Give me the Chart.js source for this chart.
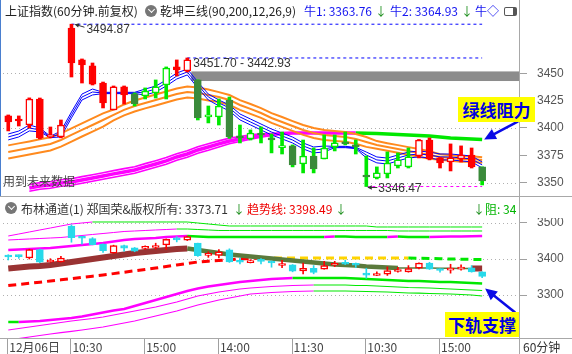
<!DOCTYPE html>
<html>
<head>
<meta charset="utf-8">
<script src="https://cdn.jsdelivr.net/npm/chart.js@4.4.1/dist/chart.umd.min.js"></script>
<style>
  body { margin: 0; background: #fff; }
  #wrap { position: relative; width: 572px; height: 354px; overflow: hidden; background: #fff;
          font-family: "Noto Sans CJK SC", "Noto Sans", sans-serif; }
  #wrap canvas { position: absolute; left: 0; }
  .t { position: absolute; white-space: nowrap; font-size: 12px; line-height: 16px; color: #222; }
  .num { font-family: "Liberation Sans", Arial, sans-serif; color: #333; }
  .ln { position: absolute; background: #a8a8a8; }
  .ico { position: absolute; width: 12px; height: 12px; border-radius: 50%; background: #767676; }
  .ico::after { content: ''; position: absolute; left: 3.6px; top: 2px; width: 4px; height: 4px;
                border-right: 1.6px solid #fff; border-bottom: 1.6px solid #fff; transform: rotate(45deg); }
  .tag { position: absolute; background: #ffff00; color: #0000e0; font-weight: bold; font-size: 17px;
         line-height: 25px; height: 25px; text-align: center; }
</style>
</head>
<body>
<div id="wrap">
  <canvas id="main" width="572" height="197" style="top:0"></canvas>
  <canvas id="sub" width="572" height="136" style="top:218px"></canvas>

  <!-- frame lines -->
  <div class="ln" style="left:0;top:0;width:1px;height:197px;background:#4a7fcf"></div>
  <div class="ln" style="left:519px;top:0;width:1px;height:354px"></div>
  <div class="ln" style="left:0;top:196px;width:572px;height:1px"></div>
  <div class="ln" style="left:0;top:338px;width:572px;height:1px"></div>

  <!-- top title row -->
  <div class="t" style="left:5px;top:3px">上证指数(60分钟.前复权)</div>
  <div class="ico" style="left:145px;top:5px"></div>
  <div class="t" style="left:160px;top:3px">乾坤三线(90,200,12,26,9)</div>
  <div class="t" style="left:304px;top:3px;color:#1515f0">牛1: 3363.76</div>
  <div class="t" style="left:375px;top:3px;color:#1d8f1d">↓</div>
  <div class="t" style="left:390px;top:3px;color:#1515f0">牛2: 3364.93</div>
  <div class="t" style="left:461px;top:3px;color:#1d8f1d">↓</div>
  <div class="t" style="left:475px;top:3px;color:#1515f0">牛◇</div>
  <div style="position:absolute;left:504px;top:7px;width:8px;height:7px;border:1.5px solid #555;border-radius:2px;border-right:4px solid #555"></div>

  <!-- lower panel title row -->
  <div class="ico" style="left:5px;top:202px"></div>
  <div style="position:absolute;left:0;top:198px;width:519px;height:20px;overflow:hidden">
    <div class="t" style="left:21px;top:3px;color:#333">布林通道(1) 郑国荣&amp;版权所有: 3373.71</div>
    <div class="t" style="left:233px;top:3px;color:#1d8f1d">↓</div>
    <div class="t" style="left:247px;top:3px;color:#ee0000">趋势线: 3398.49</div>
    <div class="t" style="left:335px;top:3px;color:#1d8f1d">↓</div>
    <div class="t" style="left:473px;top:3px;color:#1d8f1d">↓</div>
    <div class="t" style="left:485px;top:3px;color:#00b400">阻: 34</div>
  </div>

  <!-- in-chart texts -->
  <div class="t" style="left:3px;top:173px;color:#444">用到未来数据</div>
  <div class="t num" id="lblHi"></div>
  <div class="t num" id="lblGap"></div>
  <div class="t num" id="lblLo"></div>
  <div class="tag" style="left:458px;top:97px;width:77px">绿线阻力</div>
  <div class="tag" style="left:445px;top:312px;width:74px">下轨支撑</div>
  <div class="t" style="left:523px;top:339px;color:#333">60分钟</div>
</div>

<script>
// ---- data ----
const categories = ['14:00','15:00',
  '10:30','11:30','14:00','15:00','10:30','11:30','14:00','15:00','10:30','11:30','14:00','15:00',
  '10:30','11:30','14:00','15:00','10:30','11:30','14:00','15:00','10:30','11:30','14:00','15:00',
  '10:30','11:30','14:00','15:00','10:30','11:30','14:00','15:00','10:30','11:30','14:00','15:00',
  '10:30','11:30','14:00','15:00','10:30','11:30','14:00','15:00'];
const tickIdx  = [0, 6, 13, 20, 27, 34, 41];
const tickText = ['12月06日', '10:30', '15:00', '14:00', '11:30', '10:30', '15:00'];

const open  = [3411.0, 3408.2, 3402.7, 3426.5, 3391.8, 3391.8, 3491.4, 3462.2, 3456.7, 3441.1, 3416.5, 3437.5, 3431.1, 3429.3, 3432.0, 3439.3,
               3455.8, 3452.1, 3443.9, 3410.1, 3410.1, 3425.6, 3391.8, 3389.9, 3394.5, 3391.0, 3382.0, 3383.6, 3367.1, 3374.4, 3371.7, 3382.6,
               3387.2, 3384.5, 3357.0, 3354.3, 3358.0, 3365.3, 3364.4, 3374.4, 3389.0, 3372.6, 3368.9, 3371.7, 3375.3, 3364.4];
const high  = [3411.9, 3411.0, 3427.5, 3427.4, 3400.9, 3407.3, 3494.87, 3463.1, 3459.4, 3442.0, 3438.4, 3438.4, 3432.0, 3436.6, 3443.9, 3455.8,
               3462.2, 3464.0, 3444.0, 3420.1, 3426.5, 3428.3, 3402.7, 3398.2, 3400.9, 3394.5, 3396.3, 3384.5, 3389.0, 3381.7, 3393.6, 3393.6,
               3396.3, 3389.0, 3374.4, 3364.4, 3378.1, 3377.2, 3381.7, 3389.5, 3390.9, 3373.0, 3385.4, 3383.6, 3381.7, 3364.5];
const low   = [3397.3, 3401.8, 3400.0, 3390.0, 3390.9, 3391.0, 3446.6, 3441.1, 3439.3, 3418.3, 3416.5, 3421.9, 3420.1, 3426.5, 3427.4, 3426.5,
               3447.5, 3451.2, 3407.3, 3404.6, 3402.7, 3390.5, 3386.3, 3389.0, 3386.3, 3377.2, 3376.2, 3364.4, 3358.9, 3358.9, 3371.7, 3379.0,
               3384.5, 3376.2, 3346.47, 3353.4, 3354.3, 3363.4, 3363.4, 3372.6, 3370.8, 3363.4, 3360.7, 3368.9, 3363.4, 3347.9];
const close = [3405.5, 3406.4, 3426.5, 3390.9, 3392.7, 3402.7, 3459.4, 3457.6, 3440.0, 3422.9, 3437.5, 3430.2, 3421.9, 3433.8, 3437.5, 3454.8,
               3453.0, 3462.2, 3409.1, 3410.5, 3420.1, 3391.8, 3391.0, 3395.4, 3393.6, 3389.0, 3383.0, 3366.2, 3374.4, 3362.5, 3381.7, 3386.3,
               3385.4, 3382.6, 3355.2, 3358.9, 3368.0, 3370.8, 3373.5, 3389.0, 3371.7, 3368.0, 3372.6, 3375.3, 3364.4, 3351.6];
// 乾坤三线 state: 1 bull (red), -1 bear (green)
const signal = [1,1,1,1,1,1,1,1,1,1,1,1,-1,-1,-1,-1,1,1,-1,-1,-1,-1,-1,-1,-1,-1,-1,-1,-1,-1,-1,-1,-1,-1,-1,-1,-1,-1,-1,1,1,1,1,1,1,-1];

const blueHi  = [3394.5, 3397.2, 3402.7, 3400.0, 3392.4, 3397.2, 3414.6, 3431.0, 3435.6, 3432.6, 3432.6, 3432.6, 3432.6, 3435.6, 3438.3, 3443.8,
                 3450.2, 3453.9, 3442.0, 3431.0, 3425.6, 3421.0, 3412.8, 3408.2, 3403.6, 3399.0, 3395.4, 3391.7, 3386.3, 3382.6, 3383.5, 3383.2,
                 3383.2, 3382.3, 3378.0, 3373.5, 3372.5, 3375.3, 3378.0, 3378.9, 3378.0, 3376.2, 3376.2, 3375.3, 3374.4, 3368.9];
const blueMid = [3391.8, 3394.5, 3400.0, 3398.2, 3391.8, 3394.5, 3411.9, 3428.3, 3432.9, 3432.0, 3432.0, 3432.0, 3432.0, 3432.9, 3435.6, 3441.1,
                 3447.5, 3451.2, 3439.3, 3428.3, 3422.9, 3418.3, 3410.1, 3405.5, 3400.9, 3396.3, 3392.7, 3389.0, 3383.6, 3379.9, 3380.8, 3382.6,
                 3382.6, 3381.7, 3375.3, 3370.8, 3369.8, 3372.6, 3375.3, 3376.2, 3375.3, 3373.5, 3373.5, 3372.6, 3371.7, 3366.2];
const blueLo  = [3389.1, 3391.8, 3397.3, 3396.4, 3391.2, 3391.8, 3409.2, 3425.6, 3430.2, 3431.4, 3431.4, 3431.4, 3431.4, 3430.2, 3432.9, 3438.4,
                 3444.8, 3448.5, 3436.6, 3425.6, 3420.2, 3415.6, 3407.4, 3402.8, 3398.2, 3393.6, 3390.0, 3386.3, 3380.9, 3377.2, 3378.1, 3382.0,
                 3382.0, 3381.1, 3372.6, 3368.1, 3367.1, 3369.9, 3372.6, 3373.5, 3372.6, 3370.8, 3370.8, 3369.9, 3369.0, 3363.5];

const orangeHi  = [3384.1, 3385.9, 3387.7, 3389.6, 3391.4, 3395.0, 3399.6, 3404.2, 3408.7, 3413.3, 3416.9, 3421.5, 3425.1, 3427.9, 3430.6, 3433.3,
                   3436.1, 3437.9, 3437.0, 3435.2, 3432.8, 3430.1, 3425.5, 3421.9, 3418.2, 3413.6, 3410.0, 3406.3, 3402.7, 3399.9, 3398.1, 3397.2,
                   3396.3, 3394.5, 3391.7, 3388.0, 3386.1, 3384.3, 3382.5, 3380.7, 3378.8, 3376.0, 3375.1, 3374.2, 3374.2, 3373.3];
const orangeMid = [3378.1, 3379.9, 3381.7, 3383.6, 3385.4, 3389.0, 3393.6, 3398.2, 3402.7, 3407.3, 3411.9, 3416.5, 3420.1, 3422.9, 3425.6, 3428.3,
                   3431.1, 3432.9, 3432.0, 3430.2, 3428.3, 3425.6, 3421.0, 3417.4, 3413.7, 3409.1, 3405.5, 3401.8, 3398.2, 3395.4, 3393.6, 3392.7,
                   3391.8, 3390.0, 3387.2, 3384.5, 3382.6, 3380.8, 3379.0, 3377.2, 3375.3, 3373.5, 3372.6, 3371.7, 3371.7, 3370.8];
const orangeLo  = [3372.1, 3373.9, 3375.7, 3377.6, 3379.4, 3383.0, 3387.6, 3392.2, 3396.7, 3401.3, 3406.9, 3411.5, 3415.1, 3417.9, 3420.6, 3423.3,
                   3426.1, 3427.9, 3427.0, 3425.2, 3423.8, 3421.1, 3416.5, 3412.9, 3409.2, 3404.6, 3401.0, 3397.3, 3393.7, 3390.9, 3389.1, 3388.2,
                   3387.3, 3385.5, 3382.7, 3381.0, 3379.1, 3377.3, 3375.5, 3373.7, 3371.8, 3371.0, 3370.1, 3369.2, 3369.2, 3368.3];

const trendLine = [null, null, 3345.2, 3347.0, 3347.9, 3349.7, 3350.6, 3352.5, 3354.3, 3356.1, 3358.0, 3359.8, 3361.6, 3364.4, 3367.1, 3369.9,
                   3373.5, 3376.2, 3379.9, 3382.6, 3385.4, 3388.1, 3389.9, 3391.8, 3393.1, 3394.1, 3395.0, 3395.4, 3395.4, 3395.4, 3395.4, 3395.4,
                   3395.4, 3395.4, 3395.2, 3395.0, 3394.5, 3394.1, 3393.6, 3393.1, 3392.7, 3391.8, 3390.9, 3390.4, 3390.0, 3389.5];
const magHi = [null, null, 3348.2, 3350.0, 3350.9, 3352.7, 3353.6, 3355.5, 3357.3, 3359.1, 3361.0, 3362.8, 3364.6, 3367.4, 3370.1, 3372.9,
               3376.5, 3379.2, 3382.9, 3385.6, 3388.2, 3390.7, 3392.2, 3393.8, 3394.6, 3395.0, null, null, null, null, null, null,
               null, null, null, null, null, null, null, null, null, null, null, null, null, null];
const magLo = [null, null, 3342.2, 3344.0, 3344.9, 3346.7, 3347.6, 3349.5, 3351.3, 3353.1, 3355.0, 3356.8, 3358.6, 3361.4, 3364.1, 3366.9,
               3370.5, 3373.2, 3376.9, 3379.6, 3382.6, 3385.5, 3387.6, 3389.8, 3391.6, 3393.2, null, null, null, null, null, null,
               null, null, null, null, null, null, null, null, null, null, null, null, null, null];

const gapFrom = 17, gapTop = 3451.70, gapBottom = 3442.93;

// 布林通道 panel
const upA = [3463.9, 3469.4, 3475.0, 3480.6, 3486.1, 3491.7, 3497.2, 3500.0, 3502.8, 3502.8, 3502.8, 3502.8, 3502.8, 3502.8, 3502.8, 3502.8,
             3502.8, 3502.8, 3500.0, 3497.2, 3494.4, 3491.7, 3491.7, 3491.7, 3491.7, 3491.7, 3491.7, 3491.7, 3491.7, 3491.7, 3491.7, 3491.7,
             3491.7, 3491.7, 3491.7, 3488.9, 3488.9, 3488.9, 3488.9, 3488.9, 3488.9, 3488.9, 3488.9, 3488.9, 3488.9, 3488.9];
const upB = [3452.8, 3454.2, 3455.6, 3456.9, 3458.3, 3459.7, 3462.5, 3465.3, 3468.1, 3470.8, 3473.6, 3476.4, 3477.8, 3479.2, 3480.6, 3481.9,
             3483.3, 3483.3, 3481.9, 3480.6, 3479.2, 3479.2, 3479.2, 3479.2, 3479.2, 3479.2, 3479.2, 3479.2, 3479.2, 3479.2, 3479.2, 3479.2,
             3479.2, 3479.2, 3479.2, 3479.2, 3479.2, 3477.8, 3477.8, 3477.8, 3477.8, 3477.8, 3477.8, 3477.8, 3477.8, 3477.8];
const upC = [3425.0, 3426.4, 3427.8, 3429.2, 3430.6, 3433.3, 3436.1, 3438.9, 3441.7, 3444.4, 3448.6, 3452.8, 3455.6, 3456.9, 3458.3, 3461.1,
             3462.5, 3463.9, 3462.5, 3461.1, 3461.1, 3461.1, 3461.1, 3461.1, 3461.1, 3461.1, 3461.1, 3461.1, 3461.1, 3461.1, 3461.1, 3462.5,
             3462.5, 3461.1, 3461.1, 3461.1, 3461.1, 3462.5, 3461.1, 3461.1, 3461.1, 3461.7, 3462.2, 3462.8, 3463.3, 3463.9];
const midBand = [3373.6, 3376.4, 3379.2, 3380.6, 3383.3, 3387.5, 3391.7, 3395.8, 3400.0, 3404.2, 3408.3, 3412.5, 3416.7, 3419.4, 3422.2, 3425.0,
                 3427.8, 3429.2, 3425.0, 3420.8, 3416.7, 3412.5, 3409.7, 3406.9, 3404.2, 3401.4, 3398.6, 3395.8, 3393.1, 3390.3, 3387.5, 3384.7,
                 3383.3, 3381.9, 3379.2, 3377.8, 3376.4, 3375.0, 3375.0, 3375.0, 3375.0, 3374.4, 3374.2, 3373.9, 3373.6, 3373.7];
const trendDash = [3326.4, 3329.5, 3332.5, 3335.7, 3338.9, 3342.2, 3345.5, 3348.9, 3352.2, 3355.6, 3359.4, 3363.3, 3367.2, 3371.1, 3375.0, 3379.2,
                   3383.4, 3387.5, 3391.7, 3394.0, 3396.0, 3398.2, 3400.2, 3401.9, 3402.4, 3402.7, 3402.8, 3402.8, 3402.8, 3402.8, 3402.8, 3402.8,
                   3402.8, 3402.8, 3402.8, 3402.8, 3402.8, 3402.7, 3402.5, 3402.0, 3401.4, 3400.7, 3400.0, 3399.4, 3398.9, 3398.49];
const lowA = [3225.0, 3225.0, 3226.4, 3227.8, 3230.6, 3233.3, 3236.1, 3240.3, 3246.0, 3251.4, 3256.9, 3261.1, 3269.4, 3277.8, 3286.1, 3294.4,
              3302.8, 3311.1, 3318.1, 3323.6, 3327.8, 3331.9, 3336.1, 3338.9, 3341.7, 3344.4, 3345.8, 3347.2, 3347.2, 3347.2, 3347.2, 3347.2,
              3347.2, 3345.8, 3344.4, 3343.1, 3341.7, 3340.3, 3338.9, 3338.9, 3337.5, 3336.1, 3336.1, 3334.7, 3333.3, 3331.9];
const lowB = [3202.8, 3207.0, 3211.1, 3215.3, 3219.4, 3223.6, 3227.8, 3231.3, 3234.7, 3238.9, 3244.4, 3250.0, 3255.6, 3261.1, 3266.7, 3273.6,
              3280.6, 3288.9, 3297.2, 3302.8, 3308.3, 3312.5, 3316.7, 3319.4, 3321.5, 3323.6, 3325.0, 3326.4, 3327.1, 3327.8, 3327.8, 3327.8,
              3327.8, 3326.4, 3326.4, 3325.0, 3323.6, 3322.2, 3320.8, 3320.1, 3319.4, 3318.1, 3316.7, 3315.3, 3313.9, 3312.5];
const lowC = [3175.0, 3179.0, 3183.3, 3187.5, 3191.7, 3195.4, 3199.1, 3202.8, 3206.9, 3211.1, 3216.7, 3222.2, 3227.8, 3234.7, 3241.7, 3248.6,
              3255.6, 3263.9, 3272.2, 3279.2, 3286.1, 3291.7, 3297.2, 3302.8, 3304.9, 3306.9, 3308.3, 3309.7, 3310.4, 3311.1, 3311.1, 3311.1,
              3311.1, 3310.4, 3309.7, 3309.0, 3308.3, 3306.9, 3305.6, 3305.0, 3304.2, 3303.5, 3302.8, 3301.4, 3300.0, 3297.2];

const mainTicks = [3350, 3375, 3400, 3425, 3450];
const mainGrid  = [3350, 3400, 3450];
const subTicks  = [3300, 3400, 3500];

// ---- styles ----
const RED = '#ff0000', GREEN = '#00e800', DKGREEN = '#3b8a3b', CYAN = '#27d9ea';
const MAG = '#ff00ff', ORANGE = '#ff8a1e', BLUE = '#0000ff', BROWN = '#993333', OLIVE = '#5b7a3c';
const AXIS = '#a0a0a0';

Chart.defaults.font.family = '"Liberation Sans", Arial, sans-serif';

const xLabels = categories.concat(['', '', '']);
const last = categories.length - 1;
const bodies = open.map((o, i) => [Math.min(o, close[i]), Math.max(o, close[i])]);
const wicks = low.map((l, i) => [l, high[i]]);
const isUp = i => close[i] > open[i];
const hiIdx = high.indexOf(Math.max(...high));
const loIdx = low.indexOf(Math.min(...low));

function line(data, color, width, order, extra) {
  return Object.assign({ type: 'line', data, borderColor: color, borderWidth: width, pointRadius: 0,
                         tension: 0, fill: false, order, spanGaps: false }, extra || {});
}
// horizontal price level from candle `from` to the last candle
function level(value, from, color) {
  return line(categories.map((_, i) => (i >= from ? value : null)), color, 1, 12, { borderDash: [3, 3] });
}
const riseColor = (up, down) => ({ borderColor: c => c.p1.parsed.y > c.p0.parsed.y ? up : down });

function yAxis(min, max, ticks) {
  return {
    position: 'right', min, max,
    afterBuildTicks: s => { s.ticks = ticks.map(v => ({ value: v })); },
    afterFit: s => { s.width = 53; s.paddingTop = 0; s.paddingBottom = 0; },
    grid: { drawOnChartArea: false, tickLength: 8, color: AXIS },
    border: { color: AXIS },
    ticks: { color: '#555', padding: 10, font: { size: 12 }, callback: v => String(v) }
  };
}

function arrow(ctx, x1, y1, x2, y2, color, w, head) {
  const a = Math.atan2(y2 - y1, x2 - x1);
  ctx.save();
  ctx.strokeStyle = color; ctx.fillStyle = color; ctx.lineWidth = w;
  ctx.beginPath(); ctx.moveTo(x1, y1);
  ctx.lineTo(x2 - Math.cos(a) * head * 0.7, y2 - Math.sin(a) * head * 0.7); ctx.stroke();
  ctx.beginPath(); ctx.moveTo(x2, y2);
  ctx.lineTo(x2 - head * Math.cos(a - 0.45), y2 - head * Math.sin(a - 0.45));
  ctx.lineTo(x2 - head * Math.cos(a + 0.45), y2 - head * Math.sin(a + 0.45));
  ctx.closePath(); ctx.fill();
  ctx.restore();
}
function dotted(chart, values) {
  const { ctx, chartArea: a, scales: { y } } = chart;
  ctx.save();
  ctx.strokeStyle = '#b0b0b0'; ctx.lineWidth = 1; ctx.setLineDash([1, 3]);
  values.forEach(v => {
    const py = Math.round(y.getPixelForValue(v)) + 0.5;
    ctx.beginPath(); ctx.moveTo(a.left, py); ctx.lineTo(a.right, py); ctx.stroke();
  });
  ctx.restore();
}

// ---- main panel: 乾坤三线 ----
const mainDeco = {
  id: 'mainDeco',
  beforeDatasetsDraw(chart) {
    const { ctx, chartArea: a, scales: { x, y } } = chart;
    dotted(chart, mainGrid);
    const gx = x.getPixelForValue(gapFrom) + 4;
    const g1 = y.getPixelForValue(gapTop), g2 = y.getPixelForValue(gapBottom);
    ctx.fillStyle = '#8c8c8c';
    ctx.fillRect(gx, g1, a.right - gx, g2 - g1);
  },
  afterDatasetsDraw(chart) {
    const { ctx, scales: { x, y } } = chart;
    const hx = x.getPixelForValue(hiIdx), hy = y.getPixelForValue(high[hiIdx]);
    arrow(ctx, hx + 13, hy + 3, hx + 3, hy, '#333', 1, 5);
    const lx = x.getPixelForValue(loIdx), ly = y.getPixelForValue(low[loIdx]);
    arrow(ctx, lx + 11, ly + 1, lx + 1, ly + 1, '#333', 1, 5);
    const tx = x.getPixelForValue(last) + 2, ty = y.getPixelForValue(trendLine[last]);
    arrow(ctx, tx + 34, ty - 18, tx, ty, '#0a0ae6', 2.5, 13);
  }
};

const mainChart = new Chart(document.getElementById('main'), {
  type: 'bar',
  data: {
    labels: xLabels,
    datasets: [
      line(magHi, MAG, 1.6, 20),
      line(magLo, MAG, 1.6, 20),
      line(trendLine, MAG, 3.5, 19, { segment: { borderColor: c => c.p1.parsed.y < c.p0.parsed.y ? GREEN : MAG } }),
      line(orangeHi, ORANGE, 2, 18),
      line(orangeMid, ORANGE, 2, 18),
      line(orangeLo, ORANGE, 2, 18),
      line(blueHi, BLUE, 1, 17),
      line(blueMid, BLUE, 1, 17),
      line(blueLo, BLUE, 1, 17),
      level(high[hiIdx], hiIdx, BLUE),
      level(high[gapFrom], gapFrom, BLUE),
      level(low[loIdx], loIdx, MAG),
      { type: 'bar', data: wicks, barThickness: 3, grouped: false, order: 2, borderWidth: 0,
        backgroundColor: c => signal[c.dataIndex] > 0 ? RED : GREEN },
      { type: 'bar', data: bodies, barThickness: 7, grouped: false, order: 1, minBarLength: 2,
        borderSkipped: false, borderWidth: 1.5,
        backgroundColor: c => isUp(c.dataIndex) ? '#ffffff' : (signal[c.dataIndex] > 0 ? RED : DKGREEN),
        borderColor: c => signal[c.dataIndex] > 0 ? RED : (isUp(c.dataIndex) ? GREEN : DKGREEN) }
    ]
  },
  options: {
    responsive: false, animation: false, events: [],
    layout: { padding: { left: 3, top: 21, bottom: 1, right: 0 } },
    plugins: { legend: { display: false }, tooltip: { enabled: false } },
    scales: {
      x: { type: 'category', offset: true, display: false },
      y: yAxis(3337.8, 3497.8, mainTicks)
    }
  },
  plugins: [mainDeco]
});

// ---- lower panel: 布林通道 ----
const subDeco = {
  id: 'subDeco',
  beforeDatasetsDraw(chart) { dotted(chart, subTicks); },
  afterDatasetsDraw(chart) {
    const { ctx, chartArea: a, scales: { x, y } } = chart;
    ctx.save();
    ctx.strokeStyle = AXIS; ctx.lineWidth = 1;
    tickIdx.forEach(i => {
      const px = Math.round(x.getPixelForValue(i)) - 0.5;
      ctx.beginPath(); ctx.moveTo(px, a.bottom); ctx.lineTo(px, chart.height); ctx.stroke();
    });
    ctx.restore();
    const tx = x.getPixelForValue(last) + 3, ty = y.getPixelForValue(lowA[last]) + 5;
    arrow(ctx, tx + 30, ty + 24, tx, ty, '#0a0ae6', 2.5, 13);
  }
};

new Chart(document.getElementById('sub'), {
  type: 'bar',
  data: {
    labels: xLabels,
    datasets: [
      line(upA, GREEN, 1, 20, { segment: riseColor(MAG, GREEN) }),
      line(upB, GREEN, 1, 20, { segment: riseColor(MAG, GREEN) }),
      line(upC, GREEN, 2.5, 20, { segment: riseColor(MAG, GREEN) }),
      line(lowA, GREEN, 2.5, 20, { segment: riseColor(MAG, GREEN) }),
      line(lowB, GREEN, 1.2, 20, { segment: riseColor(MAG, GREEN) }),
      line(lowC, GREEN, 1.2, 20, { segment: riseColor(MAG, GREEN) }),
      line(trendDash, RED, 3, 19, { borderDash: [8, 5], segment: { borderColor: c => {
        const d = c.p1.parsed.y - c.p0.parsed.y;
        return d > 0.3 ? RED : (d < -0.25 ? GREEN : '#ffd400');
      } } }),
      line(midBand, BROWN, 6, 18, { segment: {
        borderColor: c => c.p1.parsed.y > c.p0.parsed.y ? BROWN : OLIVE,
        borderWidth: c => {
          const d = c.p1.parsed.y - c.p0.parsed.y;
          return d > 0 ? 6 : (d < -1 ? 4.5 : 1.5);
        } } }),
      { type: 'bar', data: wicks, barThickness: 1, grouped: false, order: 2, borderWidth: 0,
        backgroundColor: c => isUp(c.dataIndex) ? RED : CYAN },
      { type: 'bar', data: bodies, barThickness: 7, grouped: false, order: 1, minBarLength: 2,
        borderSkipped: false, borderWidth: 1.5,
        backgroundColor: c => isUp(c.dataIndex) ? '#ffffff' : CYAN,
        borderColor: c => isUp(c.dataIndex) ? RED : CYAN }
    ]
  },
  options: {
    responsive: false, animation: false, events: [],
    layout: { padding: { left: 3, top: 1, bottom: 0, right: 0 } },
    plugins: { legend: { display: false }, tooltip: { enabled: false } },
    scales: {
      x: { type: 'category', offset: true,
           afterFit: s => { s.height = 16; s.paddingLeft = 0; s.paddingRight = 0; },
           grid: { display: false, drawTicks: false },
           border: { display: true, color: AXIS },
           ticks: { autoSkip: false, maxRotation: 0, minRotation: 0, align: 'start', labelOffset: 1, padding: 2,
                    color: '#444', font: { size: 12, family: '"Noto Sans CJK SC", "Liberation Sans", sans-serif' },
                    callback: (v, i) => { const k = tickIdx.indexOf(i); return k >= 0 ? tickText[k] : ''; } } },
      y: yAxis(3180.6, 3511.1, subTicks)
    }
  },
  plugins: [subDeco]
});

// ---- level labels, placed from the main chart's scales ----
function place(id, text, left, cy) {
  const el = document.getElementById(id);
  el.textContent = text;
  el.style.left = left + 'px';
  el.style.top = (cy - 8) + 'px';
}
const mx = mainChart.scales.x, my = mainChart.scales.y;
place('lblHi', high[hiIdx].toFixed(2), mx.getPixelForValue(hiIdx) + 15, my.getPixelForValue(high[hiIdx]) + 5);
place('lblGap', gapTop.toFixed(2) + ' - ' + gapBottom.toFixed(2), mx.getPixelForValue(gapFrom) + 6, my.getPixelForValue(high[gapFrom]) + 5);
place('lblLo', low[loIdx].toFixed(2), mx.getPixelForValue(loIdx) + 12, my.getPixelForValue(low[loIdx]) + 1);
</script>
</body>
</html>
